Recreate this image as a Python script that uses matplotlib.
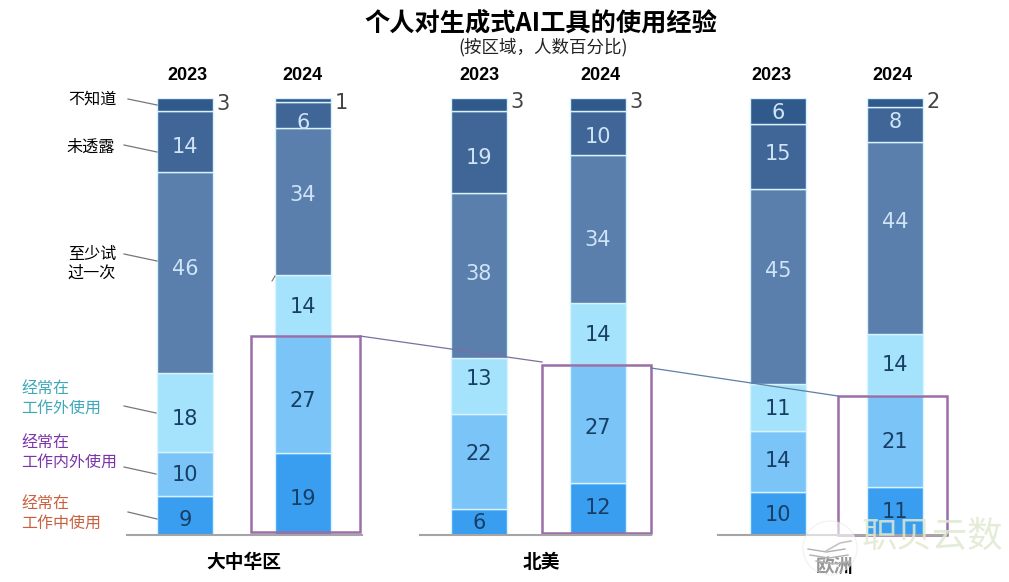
import matplotlib.pyplot as plt
from matplotlib.patches import Rectangle, Circle

plt.rcParams["font.family"] = ["Noto Sans CJK SC", "DejaVu Sans"]

title = "个人对生成式AI工具的使用经验"
subtitle = "(按区域，人数百分比)"
years = ["2023", "2024"]
regions = ["大中华区", "北美", "欧洲"]

# order: work, both, outside work, tried once, undisclosed, unknown
china_2023 = [9, 10, 18, 46, 14, 3]
china_2024 = [19, 27, 14, 34, 6, 1]
na_2023 = [6, 22, 13, 38, 19, 3]
na_2024 = [12, 27, 14, 34, 10, 3]
eu_2023 = [10, 14, 11, 45, 15, 6]
eu_2024 = [11, 21, 14, 44, 8, 2]

series = [china_2023, china_2024, na_2023, na_2024, eu_2023, eu_2024]
bar_x = [185, 303, 479, 598, 778, 895]
year_x = [187, 302, 479, 600, 771, 892]
colors = ["#3a9ef0", "#7bc4f7", "#a5e3fc", "#5a7fad", "#3f6696", "#315a8c"]
text_colors = ["#173f66", "#173f66", "#173f66", "#cfe4f7", "#cfe4f7", "#cfe4f7"]

# labels are not quite centred in the original, pixels down from the middle
nudges = [
    [5, 1, 6, -4, 5, 3],
    [5, 7, 1, -7, 8, 2],
    [1, -7, -7, -1, 6, 1],
    [-1, 4, 1, 11, 4, 1],
    [2, 0, 2, -15, -2, 2],
    [1, 1, 0, -16, -2, 1],
]

fig = plt.figure(figsize=(10.09, 5.82), dpi=100)

# bars live on a 0-100 axes, everything else on a pixel overlay
ax = fig.add_axes([0, (582 - 535) / 582, 1, 437 / 582])
ax.set_xlim(0, 1009)
ax.set_ylim(0, 100)
ax.axis("off")

ov = fig.add_axes([0, 0, 1, 1])
ov.set_xlim(0, 1009)
ov.set_ylim(582, 0)
ov.axis("off")
ov.patch.set_alpha(0)

for x, vals, nudge in zip(bar_x, series, nudges):
    total = sum(vals)
    bottom = 0
    for i, v in enumerate(vals):
        h = v / total * 100
        ax.bar(x, h, width=56, bottom=bottom, color=colors[i], edgecolor="#d8f3fd", linewidth=1.0)
        if v <= 3:
            # small values sit beside the bar
            ax.annotate(str(v), (x + 28, 100), xytext=(10, -nudge[i] - 3), textcoords="offset pixels",
                        color="#444444", fontsize=15, ha="center", va="center", family="DejaVu Sans")
        else:
            ax.annotate(str(v), (x, bottom + h / 2), xytext=(0, -nudge[i]), textcoords="offset pixels",
                        color=text_colors[i], fontsize=15, ha="center", va="center", family="DejaVu Sans")
        bottom += h

# baselines
for x0, x1 in [(127, 362), (420, 651), (718, 945)]:
    ov.plot([x0, x1], [535, 535], color="#a5a5a5", lw=1.5)

# highlight boxes
for x0, y0, y1 in [(251, 336, 532), (542, 365, 533), (838, 396, 535)]:
    ov.add_patch(Rectangle((x0, y0), 109, y1 - y0, fill=False, edgecolor="#9a6ea8", lw=1.8))
ov.plot([360, 542], [336, 362], color="#7a6fa0", lw=0.9)
ov.plot([651, 838], [368, 396], color="#5f7fa5", lw=0.9)
ov.plot([272, 275], [281, 276], color="#777777", lw=0.8)

ov.text(541, 23, title, fontsize=18.2, fontweight="bold", ha="center", va="center", color="black")
ov.text(543, 47, subtitle, fontsize=12.6, ha="center", va="center", color="#222222")

for x, y_lab in zip(year_x, years * 3):
    ov.text(x, 75, y_lab, fontsize=13, fontweight="bold", ha="center", va="center", family="Liberation Sans")

for x, name in zip([244, 541], regions[:2]):
    ov.text(x, 563, name, fontsize=13.5, fontweight="bold", ha="center", va="center")
ov.text(835, 566, regions[2], fontsize=13.5, fontweight="bold", ha="center", va="center", zorder=4)

# series labels on the left
ov.text(92, 99, "不知道", fontsize=11.6, ha="center", va="center")
ov.text(91, 147, "未透露", fontsize=11.6, ha="center", va="center")
ov.text(92, 254, "至少试", fontsize=11.6, ha="center", va="center")
ov.text(92, 273, "过一次", fontsize=11.6, ha="center", va="center")
ov.text(21, 388, "经常在", fontsize=11.5, ha="left", va="center", color="#3fa8b8")
ov.text(21, 408, "工作外使用", fontsize=11.5, ha="left", va="center", color="#3fa8b8")
ov.text(21, 442, "经常在", fontsize=11.5, ha="left", va="center", color="#7b35a8")
ov.text(21, 462, "工作内外使用", fontsize=11.5, ha="left", va="center", color="#7b35a8")
ov.text(21, 503, "经常在", fontsize=11.5, ha="left", va="center", color="#c8603f")
ov.text(21, 523, "工作中使用", fontsize=11.5, ha="left", va="center", color="#c8603f")

leaders = [
    (128, 99, 157, 105),
    (124, 145, 157, 152),
    (124, 254, 157, 261),
    (124, 406, 156, 413),
    (124, 467, 156, 474),
    (128, 512, 157, 519),
]
for x0, y0, x1, y1 in leaders:
    ov.plot([x0, x1], [y0, y1], color="#777777", lw=0.9)

# watermark: round logo over the region label, then the name
ov.add_patch(Circle((830, 548), 27, facecolor="white", edgecolor="#e8e8e8", lw=0.8, alpha=0.6, zorder=5))
for y, x0, x1 in [(549, 808, 845), (555, 810, 848), (561, 816, 850)]:
    ov.plot([x0, (x0 + x1) / 2, x1], [y, y + 3, y], color="#b0b0b0", lw=1.0, zorder=6)
ov.plot([826, 840, 851], [551, 543, 541], color="#c4c4c4", lw=1.2, zorder=6)
ov.text(932, 537, "职贝云数", fontsize=25.5, ha="center", va="center", color="#dfe9cf", alpha=0.85, zorder=7)

fig.savefig("out.png", dpi=100)
